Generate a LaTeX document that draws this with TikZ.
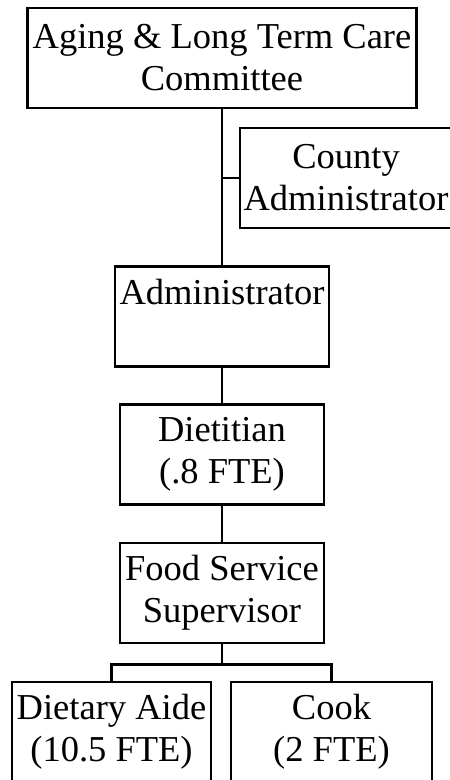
\documentclass[tikz,border=0pt]{standalone}
\usepackage{fontspec}
\setmainfont{Liberation Serif}
\newcommand{\orgfont}{\fontsize{36.5}{42}\selectfont}

\begin{document}
\begin{tikzpicture}[x=1pt, y=1pt, line width=2.6pt,
    unit/.style={draw, line width=2.6pt, align=center, inner sep=0pt,
      minimum height=100pt, font=\orgfont}]

  \clip (0,0) rectangle (450,-780);

  % -------------------------
  % Top of the chart
  % -------------------------
  \node[unit, minimum width=389pt] (committee) at (222,-58)
    {Aging \& Long Term Care\\Committee};

  \node[unit, minimum width=212pt] (county) at (346,-178)
    {County\\Administrator};

  \node[unit, minimum width=214pt] (admin) at (222,-316.5)
    {Administrator\\\phantom{(}};

  % -------------------------
  % Kitchen staff
  % -------------------------
  \node[unit, minimum width=204pt] (dietitian) at (222,-454.5)
    {Dietitian\\(.8 FTE)};

  \node[unit, minimum width=204pt] (supervisor) at (222,-593)
    {Food Service\\Supervisor};

  \node[unit, minimum width=199pt] (aide) at (111.5,-732)
    {Dietary Aide\\(10.5 FTE)};

  \node[unit, minimum width=201pt] (cook) at (331.5,-732)
    {Cook\\(2 FTE)};

  % Lines
  \draw (committee.south) -- (admin.north);
  \draw (county.west) -- (county.west -| committee.south);
  \draw (admin.south) -- (dietitian.north);
  \draw (dietitian.south) -- (supervisor.north);

  \draw (supervisor.south) -- ++(0,-20) -| (aide.north);
  \draw (supervisor.south) -- ++(0,-20) -| (cook.north);

\end{tikzpicture}
\end{document}
